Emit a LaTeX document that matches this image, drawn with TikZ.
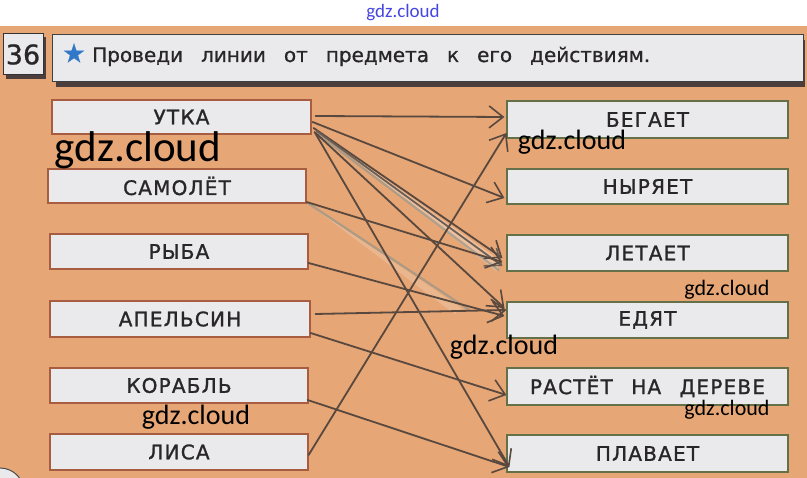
\documentclass[tikz,border=0pt]{standalone}
\usepackage{fontspec}
\setmainfont{DejaVu Sans}[FakeBold=0.8]
\newfontfamily\wmfont{Carlito}
\newfontfamily\lblfont[LetterSpace=6,FakeBold=1.2]{DejaVu Sans}
\usetikzlibrary{arrows.meta,calc}
\definecolor{bgtan}{RGB}{230,166,118}
\definecolor{boxfill}{RGB}{234,233,235}
\definecolor{lborder}{RGB}{168,92,64}
\definecolor{rborder}{RGB}{100,112,72}
\definecolor{txt}{RGB}{40,38,38}
\definecolor{linec}{RGB}{88,72,62}
\definecolor{lightline}{RGB}{150,150,138}
\definecolor{starblue}{RGB}{50,120,200}
\definecolor{wmblue}{RGB}{70,70,225}
\definecolor{shadowc}{RGB}{75,62,60}
\begin{document}
\begin{tikzpicture}[x=1pt,y=-1pt,
  lbox/.style={draw=lborder, line width=1.2pt, fill=boxfill, inner sep=0pt,
    minimum height=35pt, text=txt, font=\lblfont\fontsize{20}{24}\selectfont},
  rbox/.style={draw=rborder, line width=1.2pt, fill=boxfill, inner sep=0pt,
    minimum height=36pt, minimum width=281pt, text=txt, font=\lblfont\fontsize{20}{24}\selectfont},
  link/.style={draw=linec, line width=1.8pt, line cap=round,
    -{Straight Barb[length=14pt,width=22pt,line width=1.6pt]}},
  faint/.style={draw=lightline, line width=2.2pt, line cap=round, opacity=0.7},
  wm/.style={font=\wmfont\fontsize{#1}{#1}\selectfont, text=black, inner sep=0pt}
]
\useasboundingbox (0,0) rectangle (807,478);
\fill[white] (0,0) rectangle (807,26);
\fill[bgtan] (0,26) rectangle (807,478);

% header
\fill[shadowc] (6,37) rectangle (46,79);
\node[draw=black!80, line width=1pt, fill=boxfill, minimum width=40pt, minimum height=41pt,
  inner sep=0pt, text=txt, font=\fontsize{27}{27}\selectfont] (num) at (23,54.5) {36};
\fill[shadowc] (56,40) rectangle (805,87);
\node[draw=black!75, line width=1pt, fill=boxfill, minimum width=751pt, minimum height=47pt,
  inner sep=0pt] (titlebox) at (427.5,58.5) {};
\node[text=starblue, font=\fontsize{26}{26}\selectfont, inner sep=0pt] (star) at (74,53) {★};
\node[anchor=base west, inner sep=0pt, text=txt, font=\fontsize{20}{24}\selectfont] (title) at (92,62)
  {\makebox[558pt][s]{Проведи линии от предмета к его действиям.}};

% left boxes
\node[lbox, minimum width=259pt, minimum height=34pt] (utka) at (181.5,117) {УТКА};
\node[lbox, minimum width=258pt, minimum height=34pt] (samolet) at (177,186) {САМОЛЁТ};
\node[lbox, minimum width=258pt] (ryba) at (179,251.5) {РЫБА};
\node[lbox, minimum width=260pt, minimum height=36pt] (apelsin) at (180,319) {АПЕЛЬСИН};
\node[lbox, minimum width=258pt] (korabl) at (179,385.5) {КОРАБЛЬ};
\node[lbox, minimum width=258pt, minimum height=36pt] (lisa) at (179,452) {ЛИСА};

% right boxes
\node[rbox, minimum height=37pt] (begaet) at (647.5,119.5) {БЕГАЕТ};
\node[rbox, minimum height=35pt] (nyryaet) at (647.5,186.5) {НЫРЯЕТ};
\node[rbox] (letaet) at (647.5,253) {ЛЕТАЕТ};
\node[rbox] (edyat) at (647.5,320) {ЕДЯТ};
\node[rbox, minimum height=37pt] (rastet) at (647.5,386.5) {\makebox[235pt][s]{РАСТЁТ НА ДЕРЕВЕ}};
\node[rbox, minimum height=37pt] (plavaet) at (647.5,453.5) {ПЛАВАЕТ};

% pale erased strokes and shine
\fill[white, opacity=0.3] ($(utka.east)+(6,14)$) -- ($(letaet.west)+(-6,8)$) -- ($(letaet.west)+(-10,18)$) -- cycle;
\fill[white, opacity=0.18] ($(samolet.east)+(2,18)$) -- ($(edyat.west)+(-45,-12)$) -- ($(edyat.west)+(-52,-6)$) -- cycle;
\draw[faint] ($(utka.east)+(6,17)$) -- ($(letaet.west)+(-8,17)$);
\draw[faint] ($(samolet.east)+(1,17)$) -- ($(edyat.west)+(-37,-10)$);

% connectors
\draw[link] ($(utka.east)+(4,-1)$) -- ($(begaet.west)+(-2,-2.5)$);
\draw[link] ($(utka.east)+(1,5)$) -- ($(nyryaet.west)+(-2,11.5)$);
\draw[link] ($(utka.east)+(2,11)$) -- ($(letaet.west)+(-4,5)$);
\draw[link, draw=linec!70!lightline] ($(utka.east)+(5,14)$) -- ($(letaet.west)+(-4,13)$);
\draw[link] ($(utka.east)+(4,16)$) -- ($(edyat.west)+(-2,-12)$);
\draw[link] ($(utka.east)+(3,15)$) -- ($(plavaet.west)+(3,13.5)$);
\draw[link] ($(samolet.east)+(0,16)$) -- ($(letaet.west)+(-4,9)$);
\draw[link] ($(ryba.east)+(0,11.5)$) -- ($(edyat.west)+(-2,-4)$);
\draw[link] ($(apelsin.east)+(5,-5)$) -- ($(edyat.west)+(0,-10)$);
\draw[link] ($(apelsin.east)+(0,14)$) -- ($(rastet.west)+(0,8.5)$);
\draw[link] ($(korabl.east)+(-1,14.5)$) -- ($(plavaet.west)+(3,13.5)$);
\draw[link] ($(lisa.east)+(0,3)$) -- ($(begaet.west)+(0,13.5)$);

% bottom-left circle fragment
\draw[black!70, line width=1pt, fill=boxfill] (0,492) circle (24);

% watermarks
\node[wm=19, text=wmblue] (wm0) at (403,13) {gdz.cloud};
\node[wm=43] (wm1) at (138,150) {gdz.cloud};
\node[wm=28] (wm2) at (572,142) {gdz.cloud};
\node[wm=22] (wm3) at (727,290) {gdz.cloud};
\node[wm=28] (wm4) at (504,347) {gdz.cloud};
\node[wm=28] (wm5) at (196,417) {gdz.cloud};
\node[wm=22] (wm6) at (727,410) {gdz.cloud};
\end{tikzpicture}
\end{document}
